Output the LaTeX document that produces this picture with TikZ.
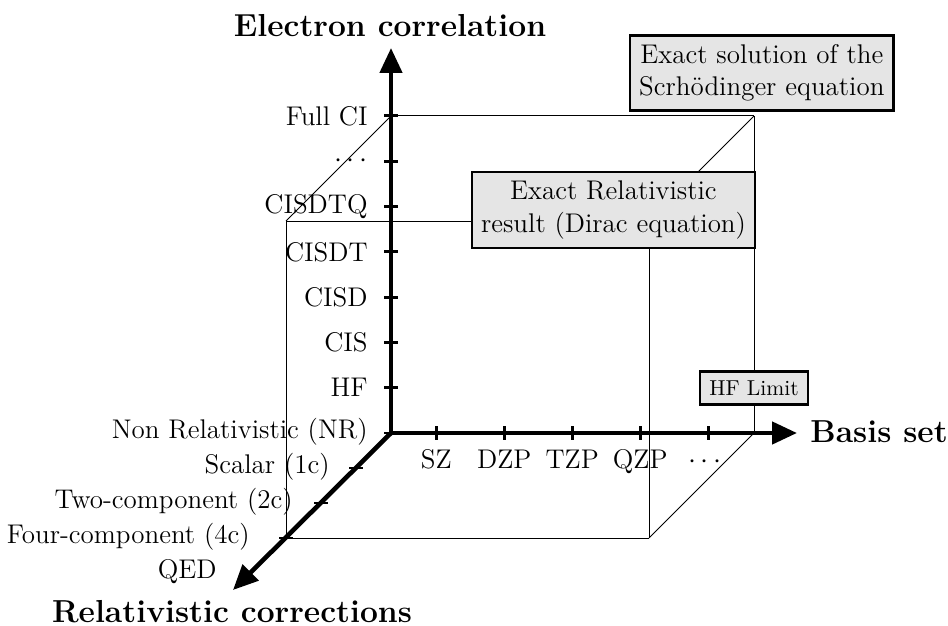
\documentclass[tikz,border=0pt]{standalone}
\usepackage{fontspec}
\usetikzlibrary{arrows.meta}
\begin{document}
\begin{tikzpicture}[x=0.5pt,y=-0.5pt,
  axis/.style={line width=2.3pt,-{Triangle[length=12.5pt,width=11pt]}},
  tickmark/.style={line width=1.4pt},
  edge/.style={line width=0.5pt},
  lbl/.style={font=\fontsize{13.5}{16.2}\selectfont, inner sep=0pt},
  ttl/.style={font=\fontsize{15.9}{19}\selectfont\bfseries, inner sep=0pt},
  result/.style={draw, line width=1.3pt, fill=gray!20, align=center, inner sep=4.6pt, font=\fontsize{13.5}{16.2}\selectfont},
]
\useasboundingbox (0,0) rectangle (948,626);
% axis end points
\coordinate (O) at (391,433);
\coordinate (Ytip) at (391,48);
\coordinate (Xtip) at (797,433);
\coordinate (Ztip) at (233,590);
% cube corners
\coordinate (BTL) at (391,116);
\coordinate (BTR) at (754,116);
\coordinate (BBR) at (754,433);
\coordinate (FTL) at (286,221);
\coordinate (FTR) at (649,221);
\coordinate (FBL) at (286,538);
\coordinate (FBR) at (649,538);
% cube edges
\draw[edge] (BTL) -- (BTR);
\draw[edge] (BTR) -- (BBR);
\draw[edge] (BTL) -- (FTL);
\draw[edge] (BTR) -- (FTR);
\draw[edge] (BBR) -- (FBR);
\draw[edge] (FTL) -- (FTR);
\draw[edge] (FTL) -- (FBL);
\draw[edge] (FBL) -- (FBR);
\draw[edge] (FTR) -- (FBR);
% axes
\draw[axis] (O) -- (Ytip);
\draw[axis] (O) -- (Xtip);
\draw[axis] (O) -- (Ztip);
% vertical ticks and labels
\foreach \k/\t in {1/HF, 2/CIS, 3/CISD, 4/CISDT, 5/CISDTQ, 6/$\cdots$, 7/Full CI} {
  \draw[tickmark] (384,433-\k*45.3) -- (398,433-\k*45.3);
  \node[lbl, anchor=east] (v\k) at (368,433-\k*45.3) {\t};
}
% horizontal ticks and labels
\foreach \k/\t in {1/SZ, 2.5/DZP, 4/TZP, 5.5/QZP} {
  \draw[tickmark] (391+\k*45.3,426) -- (391+\k*45.3,440);
  \node[lbl, anchor=base] (h\k) at (391+\k*45.3,468) {\t};
}
\draw[tickmark] (708.1,426) -- (708.1,440);
\node[lbl, anchor=base] (h7) at (705,468) {$\cdots$};
% diagonal ticks
\foreach \k in {1,2,3} {
  \draw[tickmark] (391-\k*35-7,433+\k*35) -- (391-\k*35+7,433+\k*35);
}
\draw[tickmark] (384,433) -- (391,433);
\node[lbl, anchor=east] (d0) at (368,432) {Non Relativistic (NR)};
\node[lbl, anchor=east] (d1) at (330,467) {Scalar (1c)};
\node[lbl, anchor=east] (d2) at (293,502) {Two-component (2c)};
\node[lbl, anchor=east] (d3) at (250,537) {Four-component (4c)};
\node[lbl, anchor=east] (d4) at (217,572) {QED};
% axis titles
\node[ttl, anchor=base] (ty) at (390,37) {Electron correlation};
\node[ttl, anchor=base west] (tx) at (810,442) {Basis set};
\node[ttl, anchor=base] (tz) at (232,622) {Relativistic corrections};
% result boxes
\node[result] (dirac) at (613.5,210) {Exact Relativistic\\result (Dirac equation)};
\node[result, anchor=south east] (exact) at (895,112) {Exact solution of the\\Scrhödinger equation};
\node[result, font=\fontsize{10.8}{13}\selectfont] (hf) at (754,388) {HF Limit};
\end{tikzpicture}
\end{document}
